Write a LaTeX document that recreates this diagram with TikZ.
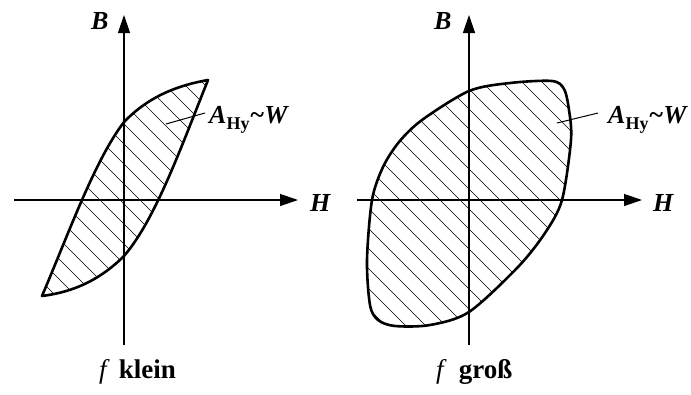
\documentclass[tikz,border=0pt]{standalone}
\usepackage{fontspec}
\setmainfont{Liberation Serif}
\usetikzlibrary{arrows.meta}

\tikzset{
  axis/.style={line width=1.3pt, -{Triangle[length=18pt,width=12pt]}},
  loopline/.style={line width=2.6pt, line join=round},
  hatch/.style={line width=0.7pt},
  pointer/.style={line width=1pt},
  lbl/.style={font=\fontsize{26}{30}\selectfont\bfseries\itshape, inner sep=0pt},
  caption/.style={font=\fontsize{27}{30}\selectfont, inner sep=0pt}
}

\newcommand{\areaname}{A\textup{\fontsize{18}{20}\selectfont\raisebox{-6pt}{Hy}}\textasciitilde W}

\begin{document}
\begin{tikzpicture}[x=1pt, y=-1pt]
  \useasboundingbox (0,0) rectangle (691,394);

  \def\loopL{(42,296) .. controls (70,230) and (95,160) .. (124,122)
    .. controls (150,95) and (180,85) .. (208,80)
    .. controls (180,150) and (155,220) .. (124,256)
    .. controls (95,285) and (65,293) .. (42,296) -- cycle}
  \def\loopR{plot[smooth cycle, tension=0.5] coordinates {
    (367,260) (372,200) (383,167) (399,142) (422,120) (469,91) (510,83)
    (552,81) (564,89) (569,110) (571,140) (562,200) (545,233) (518,267)
    (469,312) (430,325) (395,326) (378,320) (370,305)}}

  % Hatching of both loops
  \begin{scope}
    \clip \loopL;
    \foreach \c in {-300,-280,...,300}{
      \draw[hatch] (\c,0) -- ++(400,400);
    }
  \end{scope}
  \begin{scope}
    \clip \loopR;
    \foreach \c in {0,20,...,700}{
      \draw[hatch] (\c,0) -- ++(400,400);
    }
  \end{scope}

  % Axes
  \coordinate (hL0) at (14,200);  \coordinate (hL1) at (298,200);
  \coordinate (bL0) at (124,345); \coordinate (bL1) at (124,15);
  \coordinate (hR0) at (357,200); \coordinate (hR1) at (642,200);
  \coordinate (bR0) at (469,345); \coordinate (bR1) at (469,15);
  \draw[axis] (hL0) -- (hL1);
  \draw[axis] (bL0) -- (bL1);
  \draw[axis] (hR0) -- (hR1);
  \draw[axis] (bR0) -- (bR1);

  % Loops
  \draw[loopline] \loopL;
  \draw[loopline] \loopR;

  % Axis labels
  \node[lbl, anchor=base west] (BL) at (91,29) {B};
  \node[lbl, anchor=base west] (HL) at (310,211) {H};
  \node[lbl, anchor=base west] (BR) at (434,29) {B};
  \node[lbl, anchor=base west] (HR) at (653,211) {H};

  % Area labels with pointers
  \coordinate (pL) at (166,124);
  \coordinate (pR) at (557,123);
  \node[lbl, anchor=base west] (AL) at (209,123) {\areaname};
  \node[lbl, anchor=base west] (AR) at (608,123) {\areaname};
  \draw[pointer] (pL) -- ([xshift=-4pt, yshift=10pt]AL.base west);
  \draw[pointer] (pR) -- ([xshift=-10pt, yshift=10pt]AR.base west);

  % Captions
  \node[caption, anchor=base west] (fL) at (99,378) {\textit{f}\hspace{9pt}\textbf{klein}};
  \node[caption, anchor=base west] (fR) at (436,378) {\textit{f}\hspace{12pt}\textbf{groß}};

\end{tikzpicture}
\end{document}
